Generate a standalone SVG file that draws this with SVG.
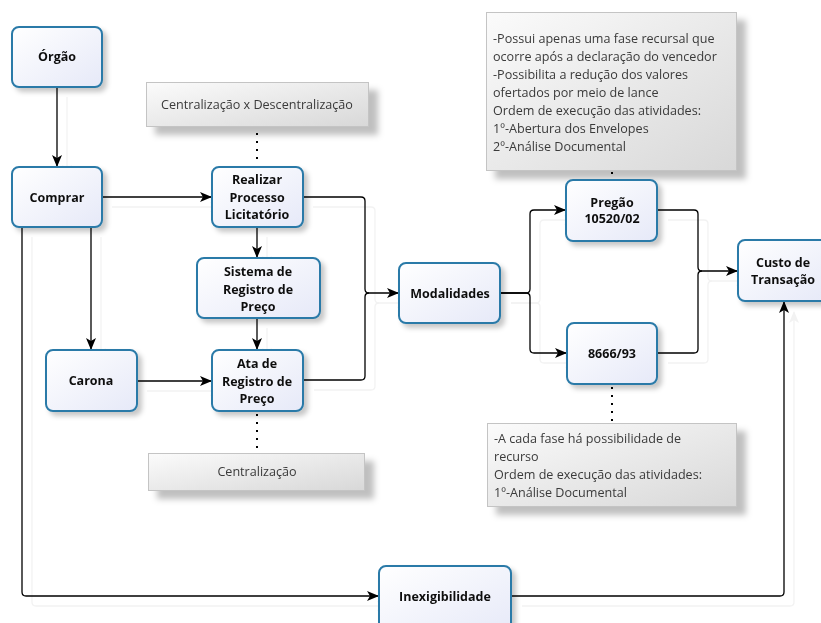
<svg xmlns="http://www.w3.org/2000/svg" width="821" height="623" viewBox="0 0 821 623">
<defs>
<linearGradient id="gNode" x1="0" y1="0" x2="1" y2="1">
<stop offset="0" stop-color="#ffffff"/>
<stop offset="1" stop-color="#e6e9f8"/>
</linearGradient>
<linearGradient id="gNote" x1="0" y1="0" x2="1" y2="1">
<stop offset="0" stop-color="#fbfbfb"/>
<stop offset="1" stop-color="#d8d8d8"/>
</linearGradient>
<filter id="fNode" x="-20%" y="-20%" width="150%" height="150%">
<feDropShadow dx="4" dy="4" stdDeviation="2.5" flood-color="#000" flood-opacity="0.22"/>
</filter>
<filter id="fNote" x="-20%" y="-30%" width="150%" height="170%">
<feDropShadow dx="9" dy="8" stdDeviation="3" flood-color="#000" flood-opacity="0.25"/>
</filter>
<filter id="fConn" x="-10%" y="-10%" width="130%" height="130%">
<feDropShadow dx="10" dy="10" stdDeviation="0.6" flood-color="#000" flood-opacity="0.05"/>
</filter>
<marker id="arr" viewBox="0 0 12 10" refX="11" refY="5" markerWidth="12" markerHeight="10" markerUnits="userSpaceOnUse" orient="auto">
<path d="M0,0 L12,5 L0,10 L3,5 z" fill="#000"/>
</marker>
</defs>
<style>
.node rect{fill:url(#gNode);stroke:#2a7aa8;stroke-width:2;}
.node{filter:url(#fNode);}
.node text{font-family:"Open Sans","Noto Sans",sans-serif;font-weight:bold;font-size:12.5px;fill:#111;text-anchor:middle;}
.note rect{fill:url(#gNote);stroke:#c4c4c4;stroke-width:1;}
.note{filter:url(#fNote);}
.note text{font-family:"Open Sans","Noto Sans",sans-serif;font-size:12.6px;fill:#3a3a3a;}
.conn path{fill:none;stroke:#000;stroke-width:1.3;}
.arrow{marker-end:url(#arr);}
.dot{fill:none;stroke:#000;stroke-width:2;stroke-dasharray:2 6;}
</style>
<rect width="821" height="623" fill="#ffffff"/>

<g id="connectors" class="conn" filter="url(#fConn)">
<path class="arrow" d="M57,87 V166"/>
<path class="arrow" d="M102,197 H211"/>
<path class="arrow" d="M91,227 V349"/>
<path class="arrow" d="M137,381 H211"/>
<path class="arrow" d="M257,227 V257"/>
<path class="arrow" d="M257,318 V349"/>
<path class="arrow" d="M303,197 H361 Q365,197 365,201 V289 Q365,293 369,293 H398"/>
<path d="M304,380 H361 Q365,380 365,376 V297 Q365,293 369,293"/>
<path class="arrow" d="M501,293 H526 Q530,293 530,289 V214 Q530,210 534,210 H565"/>
<path class="arrow" d="M501,293 H526 Q530,293 530,297 V349 Q530,353 534,353 H566"/>
<path class="arrow" d="M658,210 H694 Q698,210 698,214 V267 Q698,271 702,271 H737"/>
<path d="M658,353 H694 Q698,353 698,349 V275 Q698,271 702,271"/>
<path class="arrow" d="M22,227 V592 Q22,596 26,596 H378"/>
<path class="arrow" d="M512,596 H780 Q784,596 784,592 V302"/>
</g>

<g id="dotted">
<path class="dot" d="M257,133 V165"/>
<path class="dot" d="M257,414 V452"/>
<path class="dot" d="M612,387 V422"/>
<path class="dot" d="M612,172 V179"/>
</g>

<g id="note-centralizacao-descentralizacao" class="note">
<rect x="146.5" y="82.5" width="222" height="44"/>
<text x="257" y="108.5" text-anchor="middle">Centralização x Descentralização</text>
</g>
<g id="note-centralizacao" class="note">
<rect x="148.5" y="453.5" width="216" height="37"/>
<text x="257" y="475.5" text-anchor="middle">Centralização</text>
</g>
<g id="note-pregao" class="note">
<rect x="486.5" y="12.5" width="250" height="158"/>
<text x="493" y="42.5">-Possui apenas uma fase recursal que</text>
<text x="493" y="60.5">ocorre após a declaração do vencedor</text>
<text x="493" y="78.5">-Possibilita a redução dos valores</text>
<text x="493" y="96.5">ofertados por meio de lance</text>
<text x="493" y="114.5">Ordem de execução das atividades:</text>
<text x="493" y="132.5">1º-Abertura dos Envelopes</text>
<text x="493" y="150.5">2º-Análise Documental</text>
</g>
<g id="note-8666" class="note">
<rect x="487.5" y="423.5" width="249" height="83"/>
<text x="494" y="442.5">-A cada fase há possibilidade de</text>
<text x="494" y="460.5">recurso</text>
<text x="494" y="478.5">Ordem de execução das atividades:</text>
<text x="494" y="496.5">1º-Análise Documental</text>
</g>

<g id="node-orgao" class="node">
<rect x="12" y="27" width="90" height="60" rx="7"/>
<text x="57" y="61">Órgão</text>
</g>
<g id="node-comprar" class="node">
<rect x="12" y="167" width="90" height="60" rx="7"/>
<text x="57" y="201.5">Comprar</text>
</g>
<g id="node-realizar" class="node">
<rect x="212" y="167" width="91" height="60" rx="7"/>
<text x="257" y="183.5">Realizar</text>
<text x="257" y="201.5">Processo</text>
<text x="257" y="219">Licitatório</text>
</g>
<g id="node-sistema" class="node">
<rect x="197" y="258" width="123" height="60" rx="7"/>
<text x="258" y="275.5">Sistema de</text>
<text x="258" y="293.5">Registro de</text>
<text x="258" y="310.5">Preço</text>
</g>
<g id="node-carona" class="node">
<rect x="46" y="350" width="91" height="61" rx="7"/>
<text x="91" y="385">Carona</text>
</g>
<g id="node-ata" class="node">
<rect x="212" y="350" width="91" height="61" rx="7"/>
<text x="257" y="367.5">Ata de</text>
<text x="257" y="385.5">Registro de</text>
<text x="257" y="402.5">Preço</text>
</g>
<g id="node-modalidades" class="node">
<rect x="399" y="263" width="101" height="60" rx="7"/>
<text x="450" y="297.5">Modalidades</text>
</g>
<g id="node-pregao" class="node">
<rect x="566" y="180" width="91" height="61" rx="7"/>
<text x="612" y="206.5">Pregão</text>
<text x="612" y="222.5">10520/02</text>
</g>
<g id="node-8666" class="node">
<rect x="567" y="323" width="90" height="61" rx="7"/>
<text x="612" y="357.5">8666/93</text>
</g>
<g id="node-custo" class="node">
<rect x="738" y="240" width="92" height="61" rx="7"/>
<text x="783" y="266.5">Custo de</text>
<text x="783" y="283.5">Transação</text>
</g>
<g id="node-inexigibilidade" class="node">
<rect x="379" y="566" width="132" height="70" rx="7"/>
<text x="445" y="600.5">Inexigibilidade</text>
</g>
</svg>
